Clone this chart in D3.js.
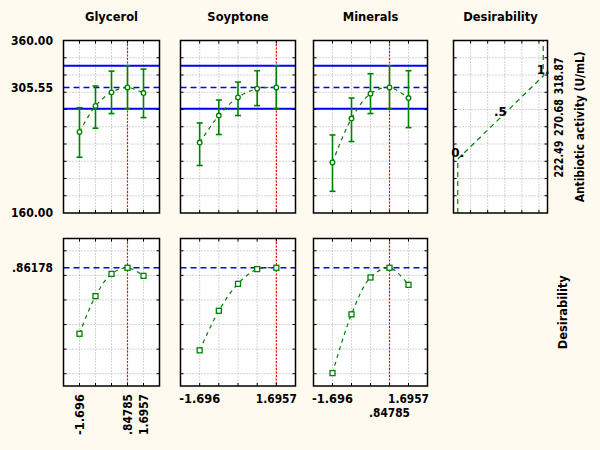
<!DOCTYPE html>
<html><head><meta charset="utf-8">
<script src="https://cdn.jsdelivr.net/npm/d3@7"></script>
<style>
body{margin:0;background:#FFFAF0;}
svg{display:block;}
text{font-family:"DejaVu Sans",Verdana,sans-serif;font-weight:bold;fill:#000;}
</style>
</head><body><svg id="c" width="600" height="450"></svg>
<script>
// ---------- data ----------
const factors = ["Glycerol", "Soyptone", "Minerals"];
const levels = [-1.696, -0.84785, 0, 0.84785, 1.6957];

const glycerolMean  = [254.0, 284.1, 299.9, 305.55, 299.1];
const glycerolLower = [224.7, 258.3, 275.3, 281.0, 270.6];
const glycerolUpper = [282.1, 307.2, 324.5, 330.6, 326.8];

const soyptoneMean  = [241.7, 273.0, 294.1, 304.2, 305.55];
const soyptoneLower = [215.1, 251.0, 273.0, 284.5, 281.0];
const soyptoneUpper = [264.4, 291.0, 311.8, 325.0, 330.6];

const mineralsMean  = [218.6, 269.5, 298.4, 305.55, 293.3];
const mineralsLower = [185.1, 242.9, 275.3, 281.0, 259.0];
const mineralsUpper = [250.5, 293.3, 321.5, 330.6, 325.0];

const glycerolDes = [0.325, 0.631, 0.812, 0.86178, 0.796];
const soyptoneDes = [0.190, 0.512, 0.731, 0.851, 0.86178];
const mineralsDes = [0.005, 0.483, 0.783, 0.86178, 0.723];

const optimumLevels = [0.84785, 1.6957, 0.84785];
const predicted = 305.55;
const ciLower = 281.0;
const ciUpper = 330.6;
const overallDes = 0.86178;

const activityDomain = [160, 360];
const activityGrid = [180, 200, 220, 240, 260, 280, 300, 320, 340];
const activityTickLabels = ["160.00", "305.55", "360.00"];
const activityTickValues = [160, 305.55, 360];

const desDomain = [-0.1, 1.1];
const desGrid = [0, 0.2, 0.4, 0.6, 0.8, 1.0];
const desTickLabels = [".86178"];
const desTickValues = [0.86178];

const desCurveActivity = [160, 222.49, 270.68, 318.87, 360];
const desCurveValue = [0, 0, 0.5, 1, 1];
const desPointLabels = ["0.", ".5", "1."];
const desPointValues = [0, 0.5, 1];
const desPointActivity = [222.49, 270.68, 318.87];
const desAxisLabels = ["222.49", "270.68", "318.87"];
const desXDomain = [-0.05, 1.05];
const desXGrid = [0.15, 0.35, 0.55, 0.75, 0.95];

const xTickLabels = [["-1.696", ".84785", "1.6957"], ["-1.696", "1.6957"], ["-1.696", "1.6957", ".84785"]];
const xTickValues = [[-1.696, 0.84785, 1.6957], [-1.696, 1.6957], [-1.696, 1.6957, 0.84785]];

// ---------- layout ----------
const svg = d3.select("#c");
svg.append("rect").attr("width", 600).attr("height", 450).attr("fill", "#FFFAF0");

const panelX = [[63.5, 159.5], [180.5, 295.5], [313.5, 427.5]];
const desPanelX = [453.5, 547.5];
const topY = [40.5, 213];
const botY = [238.5, 386];

const GREEN = "#008000", BLUE = "#0000FF", RED = "#FF0000", GRID = "#A8A8A8";

const yAct = d3.scaleLinear().domain(activityDomain).range([topY[1], topY[0]]);
const yDes = d3.scaleLinear().domain(desDomain).range([botY[1], botY[0]]);

const means = [glycerolMean, soyptoneMean, mineralsMean];
const lowers = [glycerolLower, soyptoneLower, mineralsLower];
const uppers = [glycerolUpper, soyptoneUpper, mineralsUpper];
const dess = [glycerolDes, soyptoneDes, mineralsDes];

function frame(g, x0, x1, y0, y1, vgrid, hgrid) {
  g.append("rect").attr("x", x0).attr("y", y0).attr("width", x1 - x0).attr("height", y1 - y0).attr("fill", "#fff");
  vgrid.forEach(x => g.append("line").attr("x1", x).attr("x2", x).attr("y1", y0).attr("y2", y1)
    .attr("stroke", GRID).attr("stroke-dasharray", "1,2"));
  hgrid.forEach(y => g.append("line").attr("x1", x0).attr("x2", x1).attr("y1", y).attr("y2", y)
    .attr("stroke", GRID).attr("stroke-dasharray", "1,2"));
}
function border(g, x0, x1, y0, y1, vgrid, hgrid) {
  const t = 3;
  vgrid.forEach(x => {
    g.append("line").attr("x1", x).attr("x2", x).attr("y1", y0).attr("y2", y0 + t).attr("stroke", "#000");
    g.append("line").attr("x1", x).attr("x2", x).attr("y1", y1).attr("y2", y1 - t).attr("stroke", "#000");
  });
  hgrid.forEach(y => {
    g.append("line").attr("x1", x0).attr("x2", x0 + t).attr("y1", y).attr("y2", y).attr("stroke", "#000");
    g.append("line").attr("x1", x1).attr("x2", x1 - t).attr("y1", y).attr("y2", y).attr("stroke", "#000");
  });
  g.append("rect").attr("x", x0).attr("y", y0).attr("width", x1 - x0).attr("height", y1 - y0)
    .attr("fill", "none").attr("stroke", "#000").attr("stroke-width", 1.5);
}

factors.forEach((name, i) => {
  const [x0, x1] = panelX[i];
  const x = d3.scaleLinear().domain([-2.5436, 2.5436]).range([x0, x1]);
  const g = svg.append("g");
  const vg = levels.map(x);

  // title
  g.append("text").attr("x", (x0 + x1) / 2).attr("y", 21).attr("text-anchor", "middle")
    .style("font-size", "11.5px").text(name);

  // ---- top panel ----
  const hg = activityGrid.map(yAct);
  frame(g, x0, x1, topY[0], topY[1], vg, hg);
  [ciLower, ciUpper].forEach(v => g.append("line").attr("x1", x0).attr("x2", x1)
    .attr("y1", yAct(v)).attr("y2", yAct(v)).attr("stroke", BLUE).attr("stroke-width", 2));
  g.append("line").attr("x1", x0).attr("x2", x1).attr("y1", yAct(predicted)).attr("y2", yAct(predicted))
    .attr("stroke", BLUE).attr("stroke-width", 1.4).attr("stroke-dasharray", "6,4");
  g.append("line").attr("x1", x(optimumLevels[i])).attr("x2", x(optimumLevels[i]))
    .attr("y1", topY[0]).attr("y2", topY[1]).attr("stroke", RED).attr("stroke-width", 1.2).attr("stroke-dasharray", "2,1.5");
  const line = d3.line().x((d, k) => x(levels[k])).y(d => yAct(d)).curve(d3.curveCatmullRom);
  g.append("path").attr("d", line(means[i])).attr("fill", "none").attr("stroke", GREEN)
    .attr("stroke-width", 1.2).attr("stroke-dasharray", "4,4");
  levels.forEach((lv, k) => {
    const cx = x(lv);
    g.append("line").attr("x1", cx).attr("x2", cx).attr("y1", yAct(lowers[i][k])).attr("y2", yAct(uppers[i][k]))
      .attr("stroke", GREEN).attr("stroke-width", 1.6);
    [lowers[i][k], uppers[i][k]].forEach(v => g.append("line").attr("x1", cx - 3).attr("x2", cx + 3)
      .attr("y1", yAct(v)).attr("y2", yAct(v)).attr("stroke", GREEN).attr("stroke-width", 1.6));
    g.append("circle").attr("cx", cx).attr("cy", yAct(means[i][k])).attr("r", 2.3)
      .attr("fill", "#fff").attr("stroke", GREEN).attr("stroke-width", 1.3);
  });
  border(g, x0, x1, topY[0], topY[1], vg, hg);

  // ---- bottom panel ----
  const hg2 = desGrid.map(yDes);
  frame(g, x0, x1, botY[0], botY[1], vg, hg2);
  g.append("line").attr("x1", x0).attr("x2", x1).attr("y1", yDes(overallDes)).attr("y2", yDes(overallDes))
    .attr("stroke", BLUE).attr("stroke-width", 1.4).attr("stroke-dasharray", "6,4");
  g.append("line").attr("x1", x(optimumLevels[i])).attr("x2", x(optimumLevels[i]))
    .attr("y1", botY[0]).attr("y2", botY[1]).attr("stroke", RED).attr("stroke-width", 1.2).attr("stroke-dasharray", "2,1.5");
  const line2 = d3.line().x((d, k) => x(levels[k])).y(d => yDes(d)).curve(d3.curveCatmullRom);
  g.append("path").attr("d", line2(dess[i])).attr("fill", "none").attr("stroke", GREEN)
    .attr("stroke-width", 1.2).attr("stroke-dasharray", "4,4");
  levels.forEach((lv, k) => {
    g.append("rect").attr("x", x(lv) - 2.5).attr("y", yDes(dess[i][k]) - 2.5).attr("width", 5).attr("height", 5)
      .attr("fill", "#fff").attr("stroke", GREEN).attr("stroke-width", 1.3);
  });
  border(g, x0, x1, botY[0], botY[1], vg, hg2);

  // x tick labels
  xTickValues[i].forEach((v, k) => {
    if (i === 0) {
      g.append("text").attr("transform", `translate(${x(v)},394) rotate(-90)`).attr("dy", "0.36em")
        .attr("text-anchor", "end").style("font-size", "12px")
        .attr("textLength", 41).attr("lengthAdjust", "spacingAndGlyphs").text(xTickLabels[i][k]);
    } else {
      const row = k === 2 ? 1 : 0;
      g.append("text").attr("x", x(v)).attr("y", 403 + row * 14).attr("text-anchor", "middle")
        .style("font-size", "12px").attr("textLength", 41).attr("lengthAdjust", "spacingAndGlyphs")
        .text(xTickLabels[i][k]);
    }
  });
});

// left axis labels
activityTickValues.forEach((v, k) => svg.append("text").attr("x", 53).attr("y", yAct(v)).attr("dy", "0.36em")
  .attr("text-anchor", "end").style("font-size", "12px").attr("textLength", 42).attr("lengthAdjust", "spacingAndGlyphs")
  .text(activityTickLabels[k]));
desTickValues.forEach((v, k) => svg.append("text").attr("x", 53).attr("y", yDes(v)).attr("dy", "0.36em")
  .attr("text-anchor", "end").style("font-size", "12px").attr("textLength", 41).attr("lengthAdjust", "spacingAndGlyphs")
  .text(desTickLabels[k]));

// ---- desirability function panel ----
{
  const [x0, x1] = desPanelX;
  const xd = d3.scaleLinear().domain(desXDomain).range([x0, x1]);
  const g = svg.append("g");
  g.append("text").attr("x", (x0 + x1) / 2).attr("y", 21).attr("text-anchor", "middle")
    .style("font-size", "11.5px").text("Desirability");
  const vg = desXGrid.map(xd), hg = activityGrid.map(yAct);
  frame(g, x0, x1, topY[0], topY[1], vg, hg);
  const line = d3.line().x(d => xd(d)).y((d, k) => yAct(desCurveActivity[k]));
  g.append("path").attr("d", line(desCurveValue)).attr("fill", "none").attr("stroke", GREEN)
    .attr("stroke-width", 1.2).attr("stroke-dasharray", "5,4");
  border(g, x0, x1, topY[0], topY[1], vg, hg);
  desPointValues.forEach((v, k) => g.append("text").attr("x", xd(v)).attr("y", yAct(desPointActivity[k]) - 2)
    .attr("text-anchor", "middle").style("font-size", "12px").text(desPointLabels[k]));
  desPointActivity.forEach((v, k) => g.append("text")
    .attr("transform", `translate(559,${yAct(v)}) rotate(-90)`).attr("dy", "0.36em")
    .attr("text-anchor", "middle").style("font-size", "12px")
    .attr("textLength", 37).attr("lengthAdjust", "spacingAndGlyphs").text(desAxisLabels[k]));
  g.append("text").attr("transform", `translate(580,${(topY[0] + topY[1]) / 2}) rotate(-90)`).attr("dy", "0.36em")
    .attr("text-anchor", "middle").style("font-size", "12px")
    .attr("textLength", 151).attr("lengthAdjust", "spacingAndGlyphs").text("Antibiotic activity (U/mL)");
  g.append("text").attr("transform", `translate(563,${(botY[0] + botY[1]) / 2}) rotate(-90)`).attr("dy", "0.36em")
    .attr("text-anchor", "middle").style("font-size", "12px")
    .attr("textLength", 74).attr("lengthAdjust", "spacingAndGlyphs").text("Desirability");
}
</script>
</body></html>
